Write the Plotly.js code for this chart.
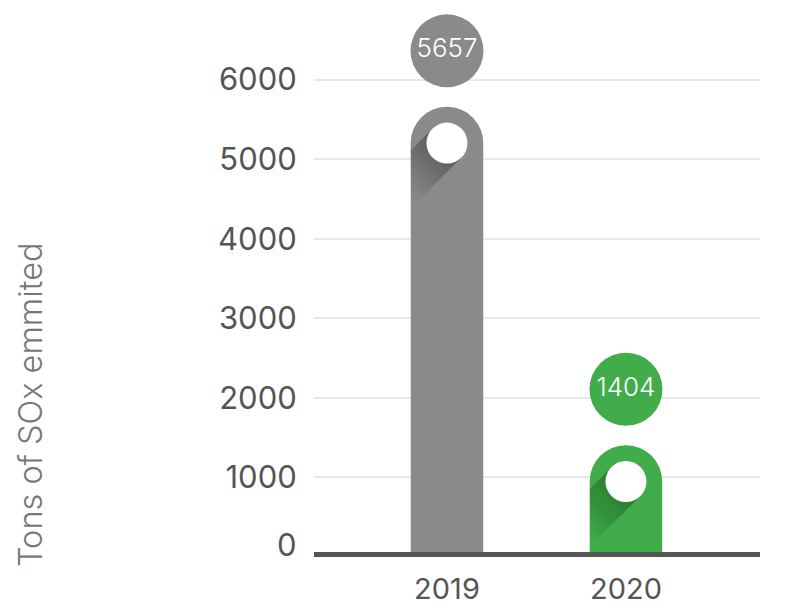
<!DOCTYPE html>
<html>
<head>
<meta charset="utf-8">
<script src="https://cdn.plot.ly/plotly-3.0.1.min.js"></script>
<style>html,body{margin:0;padding:0;background:#fff;}#chart{width:792px;height:611px;}</style>
</head>
<body>
<div id="chart"></div>
<script>
// ---- data ----
var categories = ['2019', '2020'];
var values = [5657, 1404];
var barColors = ['#8a8a8c', '#41ad4a'];
var yTickVals = [0, 1000, 2000, 3000, 4000, 5000, 6000];
var yTickText = ['0', '1000', '2000', '3000', '4000', '5000', '6000'];
var yTitle = 'Tons of SOx emmited';

// ---- style / layout constants ----
var W = 792, H = 611;
var margin = {l: 314, r: 32, t: 0, b: 54};
var xRange = [-0.743, 1.749];
var yRange = [0, 7000];
var barWidth = 0.405;
var plotW = W - margin.l - margin.r;
var plotH = H - margin.t - margin.b;
var pxPerX = plotW / (xRange[1] - xRange[0]);
var pxPerY = plotH / (yRange[1] - yRange[0]);
var halfBarPx = barWidth / 2 * pxPerX;
var capCenterPx = halfBarPx;            // white dot sits at centre of round cap
var labelOffsetPx = 56;                 // label bubble centre above bar top
var dotR = 20.5;
var font = '"Inter Light", Inter, "Open Sans", sans-serif';
var tickFont = 'Inter, "Open Sans", sans-serif';

function clipLeft(pts, xmin) {
  var out = [];
  for (var i = 0; i < pts.length; i++) {
    var a = pts[i], b = pts[(i + 1) % pts.length];
    var ain = a[0] >= xmin, bin = b[0] >= xmin;
    if (ain) out.push(a);
    if (ain !== bin) {
      var t = (xmin - a[0]) / (b[0] - a[0]);
      out.push([xmin, a[1] + t * (b[1] - a[1])]);
    }
  }
  return out;
}

var shapes = [];
categories.forEach(function (c, i) {
  var s = dotR / Math.SQRT2;
  for (var L = 4; L <= 64; L += 4) {
    var k = L / Math.SQRT2;
    // screen coords (y down) relative to dot centre
    var pts = [[-s, -s], [-s - k, -s + k], [s - k, s + k], [s, s]];
    pts = clipLeft(pts, -halfBarPx);
    var path = pts.map(function (p, j) {
      var x = p[0], y = -capCenterPx - p[1];  // y-up, relative to bar top
      return (j === 0 ? 'M' : 'L') + x.toFixed(2) + ',' + y.toFixed(2);
    }).join(' ') + ' Z';
    shapes.push({
      type: 'path', xref: 'x', yref: 'y', xsizemode: 'pixel', ysizemode: 'pixel',
      xanchor: i, yanchor: values[i], path: path,
      fillcolor: 'rgba(0,0,0,0.02)', line: {width: 0}, layer: 'above'
    });
  }
  shapes.push({
    type: 'circle', xref: 'x', yref: 'y', xsizemode: 'pixel', ysizemode: 'pixel',
    xanchor: i, yanchor: values[i],
    x0: -dotR, x1: dotR, y0: -capCenterPx - dotR, y1: -capCenterPx + dotR,
    fillcolor: '#ffffff', line: {width: 0}, layer: 'above'
  });
});
// thick baseline at zero
shapes.push({
  type: 'rect', xref: 'paper', yref: 'y', ysizemode: 'pixel', yanchor: yTickVals[0],
  x0: 0, x1: 1, y0: 0, y1: 5, fillcolor: '#555555', line: {width: 0}, layer: 'above'
});

var barTrace = {
  type: 'bar', x: categories, y: values, width: barWidth,
  marker: {color: barColors, cornerradius: '50%', line: {width: 0}},
  hoverinfo: 'skip', showlegend: false
};
var labelTrace = {
  type: 'scatter', mode: 'markers+text', x: categories,
  y: values.map(function (v) { return v + labelOffsetPx / pxPerY; }),
  text: values.map(String), textposition: 'middle center',
  textfont: {family: font, size: 26, color: '#ffffff', weight: 300},
  marker: {size: 73, color: barColors, line: {width: 0}},
  cliponaxis: false, hoverinfo: 'skip', showlegend: false
};

var layout = {
  width: W, height: H, margin: margin,
  paper_bgcolor: '#ffffff', plot_bgcolor: '#ffffff',
  showlegend: false,
  xaxis: {
    type: 'category', range: xRange, showgrid: false, zeroline: false, showline: false,
    ticks: 'outside', ticklen: 6, tickcolor: 'rgba(0,0,0,0)',
    tickfont: {family: tickFont, size: 29, color: '#555555'}, fixedrange: true
  },
  yaxis: {
    range: yRange, tickvals: yTickVals,
    ticktext: yTickText.map(function (t, i) { return i === 0 ? '' : t; }),
    showgrid: true, gridcolor: '#e8e8e8', gridwidth: 2, zeroline: false, showline: false,
    ticks: 'outside', ticklen: 10, tickcolor: 'rgba(0,0,0,0)',
    tickfont: {family: tickFont, size: 31, color: '#555555'}, fixedrange: true
  },
  shapes: shapes,
  annotations: [
    {
      text: yTickText[0], xref: 'paper', yref: 'y', x: 0, y: yTickVals[0],
      xanchor: 'right', yanchor: 'middle', xshift: -15, yshift: 13, showarrow: false,
      font: {family: tickFont, size: 31, color: '#555555'}
    },
    {
      text: yTitle, xref: 'paper', yref: 'paper', x: (31 - margin.l) / plotW,
      y: (plotH + margin.t - 405) / plotH,
      xanchor: 'center', yanchor: 'middle', textangle: -90, showarrow: false,
      font: {family: font, size: 32.5, color: '#777777', weight: 300}
    }
  ]
};

Plotly.newPlot('chart', [barTrace, labelTrace], layout, {displayModeBar: false, staticPlot: true});
</script>
</body>
</html>
